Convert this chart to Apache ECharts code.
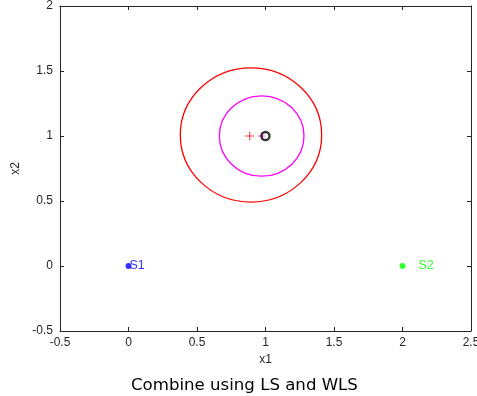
<!DOCTYPE html>
<html><head><meta charset="utf-8">
<script src="https://cdn.jsdelivr.net/npm/echarts@6/dist/echarts.min.js"></script>
<style>html,body{margin:0;padding:0;background:#fff}#c{width:477px;height:396px}</style>
</head><body><div id="c"></div>
<script>
// Data
var sensorNames = ['S1', 'S2'];
var sensorS1 = [[0, 0]];
var sensorS2 = [[2, 0]];
var truePos = [[1, 1]];
var lsEstimate = [[0.885, 1.0]];
var wlsEstimate = [[0.97, 1.0]];
// circles: [cx, cy, r]
var lsCircle = [[0.894, 1.008, 0.516]];
var wlsCircle = [[0.972, 1.0, 0.309]];
var xTicks = [-0.5, 0, 0.5, 1, 1.5, 2, 2.5];
var yTicks = [-0.5, 0, 0.5, 1, 1.5, 2];

var axisCol = '#262626';
function circleSeries(data, color) {
  return {
    type: 'custom', xAxisIndex: 0, yAxisIndex: 0, silent: true, z: 2,
    renderItem: function (params, api) {
      var c = api.coord([api.value(0), api.value(1)]);
      var s = api.size([api.value(2), api.value(2)]);
      return { type: 'ellipse', shape: { cx: c[0], cy: c[1], rx: s[0], ry: s[1] },
        style: { fill: 'none', stroke: color, lineWidth: 1.3 } };
    },
    data: data
  };
}
var chart = echarts.init(document.getElementById('c'));
var baseX = {type: 'value', min: xTicks[0], max: xTicks[xTicks.length-1], interval: 0.5};
var baseY = {type: 'value', min: yTicks[0], max: yTicks[yTicks.length-1], interval: 0.5};
chart.setOption({
  animation: false,
  backgroundColor: '#fff',
  title: { text: 'Combine using LS and WLS', left: 126, top: 372,
    textStyle: { fontFamily: 'DejaVu Sans', fontSize: 16.6, fontWeight: 'normal', color: '#000' } },
  grid: { left: 60, right: 6, top: 6, bottom: 65, show: false, outerBoundsMode: 'none', containLabel: false },
  xAxis: [
    Object.assign({}, baseX, {
      position: 'bottom', name: 'x1', nameLocation: 'middle', nameGap: 23,
      nameTextStyle: { fontFamily: 'Liberation Sans', fontSize: 12, color: axisCol },
      axisLine: { show: true, onZero: false, lineStyle: { color: axisCol, width: 1 } },
      axisTick: { show: true, inside: true, length: 4, lineStyle: { color: axisCol } },
      axisLabel: { fontFamily: 'Liberation Sans', fontSize: 12, color: axisCol, margin: 6,
        formatter: function (v) { return String(v); } },
      splitLine: { show: false }
    }),
    Object.assign({}, baseX, {
      position: 'top',
      axisLine: { show: true, onZero: false, lineStyle: { color: axisCol, width: 1 } },
      axisTick: { show: true, inside: true, length: 4, lineStyle: { color: axisCol } },
      axisLabel: { show: false }, splitLine: { show: false }
    })
  ],
  yAxis: [
    Object.assign({}, baseY, {
      position: 'left', name: 'x2', nameLocation: 'middle', nameGap: 38,
      nameTextStyle: { fontFamily: 'Liberation Sans', fontSize: 12, color: axisCol },
      axisLine: { show: true, onZero: false, lineStyle: { color: axisCol, width: 1 } },
      axisTick: { show: true, inside: true, length: 4, lineStyle: { color: axisCol } },
      axisLabel: { fontFamily: 'Liberation Sans', fontSize: 12, color: axisCol, margin: 7,
        formatter: function (v) { return String(v); } },
      splitLine: { show: false }
    }),
    Object.assign({}, baseY, {
      position: 'right',
      axisLine: { show: true, onZero: false, lineStyle: { color: axisCol, width: 1 } },
      axisTick: { show: true, inside: true, length: 4, lineStyle: { color: axisCol } },
      axisLabel: { show: false }, splitLine: { show: false }
    })
  ],
  series: [
    circleSeries(lsCircle, '#ff0000'),
    circleSeries(wlsCircle, '#ff00ff'),
    { type: 'scatter', data: wlsEstimate, symbol: 'path://M0,-1L0,1M-1,0L1,0', symbolSize: 7,
      itemStyle: { color: 'none', borderColor: '#ff00ff', borderWidth: 1 }, z: 3 },
    { type: 'scatter', data: lsEstimate, symbol: 'path://M0,-1L0,1M-1,0L1,0', symbolSize: 9,
      itemStyle: { color: 'none', borderColor: '#ff0000', borderWidth: 1 }, z: 3 },
    { type: 'scatter', data: truePos, symbol: 'circle', symbolSize: 8,
      itemStyle: { color: 'none', borderColor: '#000', borderWidth: 2.3 }, z: 4 },
    { type: 'scatter', data: sensorS1, symbol: 'circle', symbolSize: 6,
      itemStyle: { color: '#0000ff' },
      label: { show: true, formatter: sensorNames[0], position: 'right', distance: -2,
        fontFamily: 'Liberation Sans', fontSize: 12.5, color: '#0000ff' } },
    { type: 'scatter', data: sensorS2, symbol: 'circle', symbolSize: 6,
      itemStyle: { color: '#00ff00' },
      label: { show: true, formatter: sensorNames[1], position: 'right', distance: 13,
        fontFamily: 'Liberation Sans', fontSize: 12.5, color: '#00ff00' } }
  ]
});
</script></body></html>
